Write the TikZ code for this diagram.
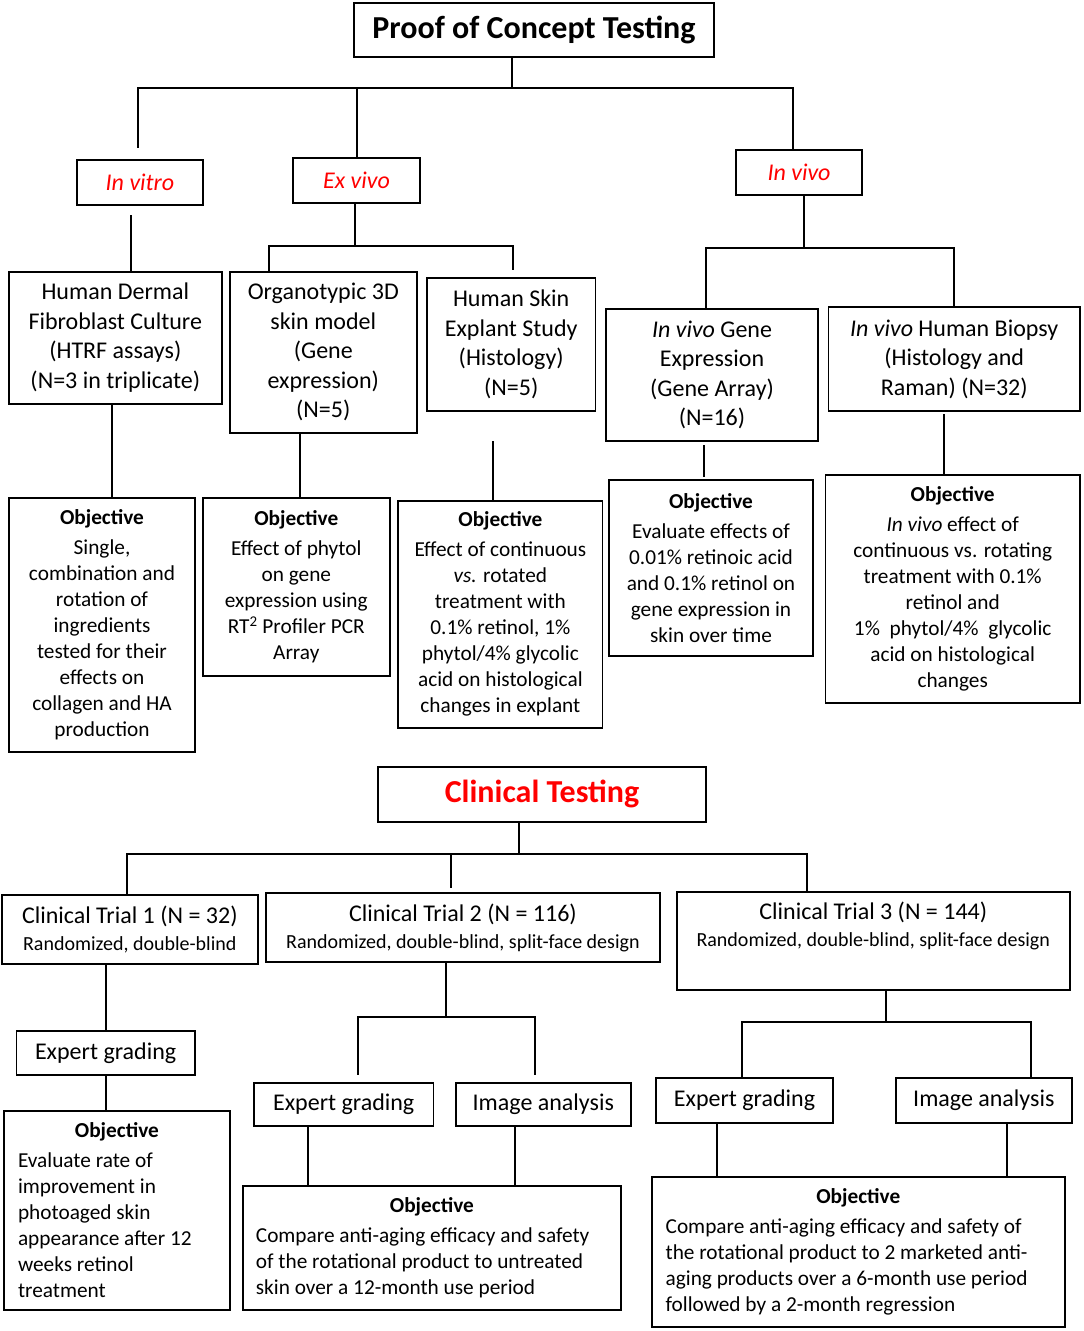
\documentclass[tikz,border=0pt]{standalone}
\usepackage{fontspec}
\setmainfont{Carlito}
\usetikzlibrary{calc}
\definecolor{rd}{RGB}{255,0,0}
\newcommand\FBig{\fontsize{24}{29.5}\selectfont}
\newcommand\FSm{\fontsize{21.3}{26}\selectfont}
\newcommand\FSub{\fontsize{20}{27}\selectfont}
\newcommand\FTitle{\fontsize{32}{38}\selectfont}
\begin{document}
\begin{tikzpicture}[x=1pt,y=-1pt,
 box/.style={draw, line width=1.8pt, inner sep=0pt, align=center},
 big/.style={font=\FBig}, sm/.style={font=\FSm},
 lbox/.style={draw, line width=1.8pt, inner ysep=0pt, inner xsep=14pt, align=flush left, font=\FSm},
 conn/.style={line width=1.8pt, line cap=rect}]
\fill[white] (0,0) rectangle (1084,1331);
\useasboundingbox (0,0) rectangle (1084,1331);

% ---------- Proof of concept ----------
\node[box, font=\FTitle\bfseries, minimum width=360, minimum height=54] (title) at (534,30) {Proof of Concept Testing};
\node[box, big, text=rd, minimum width=126, minimum height=45] (invitro) at (140,182.5) {\itshape In vitro};
\node[box, big, text=rd, minimum width=127, minimum height=45] (exvivo) at (356.5,180.5) {\itshape Ex vivo};
\node[box, big, text=rd, minimum width=126, minimum height=45] (invivo) at (799,172.5) {\itshape In vivo};

\node[box, big, minimum width=212.7, minimum height=132.3] (hdf) at (115.3,337.8) {Human Dermal\\Fibroblast Culture\\(HTRF assays)\\(N=3 in triplicate)};
\node[box, big, minimum width=186.7, minimum height=161] (organo) at (323.3,352.2) {Organotypic 3D\\skin model\\(Gene\\expression)\\(N=5)};
\node[box, big, minimum width=168.5, minimum height=133] (skin) at (511.2,344.5) {Human Skin\\Explant Study\\(Histology)\\(N=5)};
\node[box, big, minimum width=212, minimum height=132] (gene) at (712,375) {\textit{In vivo} Gene\\Expression\\(Gene Array)\\(N=16)};
\node[box, big, minimum width=251.5, minimum height=104] (biopsy) at (954.2,359) {\textit{In vivo} Human Biopsy\\(Histology and\\Raman) (N=32)};

\node[box, sm, minimum width=186, minimum height=254] (objhdf) at (102,625) {\textbf{Objective}\\[4pt]Single,\\combination and\\rotation of\\ingredients\\tested for their\\effects on\\collagen and HA\\production};
\node[box, sm, minimum width=187.3, minimum height=178] (objorg) at (296.3,587) {\textbf{Objective}\\[4pt]Effect of phytol\\on gene\\expression using\\RT\textsuperscript{2} Profiler PCR\\Array};
\node[box, sm, minimum width=204.2, minimum height=227.3] (objskin) at (500.4,614.3) {\textbf{Objective}\\[4pt]Effect of continuous\\\textit{vs.} rotated\\treatment with\\0.1\% retinol, 1\%\\phytol/4\% glycolic\\acid on histological\\changes in explant};
\node[box, sm, minimum width=203.3, minimum height=176] (objgene) at (711,568) {\textbf{Objective}\\[4pt]Evaluate effects of\\0.01\% retinoic acid\\and 0.1\% retinol on\\gene expression in\\skin over time};
\node[box, sm, minimum width=254.6, minimum height=228] (objbio) at (952.7,589) {\textbf{Objective}\\[4pt]\textit{In vivo} effect of\\continuous vs. rotating\\treatment with 0.1\%\\retinol and\\1\%~ phytol/4\%~ glycolic\\acid on histological\\changes};

% connectors top
\coordinate (j0) at (512,88);
\coordinate (bL) at (138,88);
\coordinate (bM) at (357,88);
\coordinate (bR) at (793,88);
\draw[conn] (j0 |- title.south) -- (j0);
\draw[conn] (bL) -- (bR);
\draw[conn, shorten >=12] (bL) -- (bL |- invitro.north);
\draw[conn] (bM) -- (bM |- exvivo.north);
\draw[conn] (bR) -- (bR |- invivo.north);

\coordinate (c1) at (131,0);
\draw[conn, shorten <=10] (c1 |- invitro.south) -- (c1 |- hdf.north);

\coordinate (e1) at (355,246);
\coordinate (eL) at (269,246);
\coordinate (eR) at (513,246);
\draw[conn] (e1 |- exvivo.south) -- (e1);
\draw[conn] (eL) -- (eR);
\draw[conn] (eL) -- (eL |- organo.north);
\draw[conn, shorten >=8] (eR) -- (eR |- skin.north);

\coordinate (v1) at (804,248);
\coordinate (vL) at (706,248);
\coordinate (vR) at (954,248);
\draw[conn] (v1 |- invivo.south) -- (v1);
\draw[conn] (vL) -- (vR);
\draw[conn] (vL) -- (vL |- gene.north);
\draw[conn] (vR) -- (vR |- biopsy.north);

\coordinate (k1) at (112,0);
\coordinate (k2) at (300,0);
\coordinate (k3) at (493,0);
\coordinate (k4) at (704,0);
\coordinate (k5) at (944,0);
\draw[conn] (k1 |- hdf.south) -- (k1 |- objhdf.north);
\draw[conn] (k2 |- organo.south) -- (k2 |- objorg.north);
\draw[conn, shorten <=30] (k3 |- skin.south) -- (k3 |- objskin.north);
\draw[conn, shorten <=4, shorten >=3] (k4 |- gene.south) -- (k4 |- objgene.north);
\draw[conn, shorten <=3] (k5 |- biopsy.south) -- (k5 |- objbio.north);

% ---------- Clinical ----------
\node[box, font=\FTitle\bfseries, text=rd, minimum width=328, minimum height=54.7] (clin) at (542,794.3) {Clinical Testing};
\node[box, font=\FSub, minimum width=255.6, minimum height=69] (t1) at (129.8,929.5) {{\FBig Clinical Trial 1 (N = 32)}\\Randomized, double-blind};
\node[box, font=\FSub, minimum width=394.2, minimum height=69] (t2) at (462.9,927.5) {{\FBig Clinical Trial 2 (N = 116)}\\Randomized, double-blind, split-face design};
\node[box, minimum width=393.3, minimum height=98.3] (t3) at (873.3,940.8) {};
\node[align=center, inner sep=0pt, font=\FSub] (t3t) at (873.3,926) {{\FBig Clinical Trial 3 (N = 144)}\\Randomized, double-blind, split-face design};

\node[box, big, minimum width=178.2, minimum height=44.3] (eg1) at (105.6,1052.8) {Expert grading};
\node[box, big, minimum width=179.5, minimum height=43] (eg2) at (343.7,1104.2) {Expert grading};
\node[box, big, minimum width=174.6, minimum height=43] (ia2) at (543.3,1104.2) {Image analysis};
\node[box, big, minimum width=177, minimum height=44.7] (eg3) at (744.5,1100.3) {Expert grading};
\node[box, big, minimum width=175.7, minimum height=44.7] (ia3) at (983.8,1100.3) {Image analysis};

\node[lbox, text width=197.8, minimum height=199.3] (o1) at (116.9,1210.3) {\makebox[\hsize][c]{\bfseries Objective}\\[4pt]Evaluate rate of\\improvement in\\photoaged skin\\appearance after 12\\weeks retinol\\treatment};
\node[lbox, text width=352, minimum height=124, inner xsep=13pt] (o2) at (431.9,1248) {\makebox[\hsize][c]{\bfseries Objective}\\[4pt]Compare anti-aging efficacy and safety\\of the rotational product to untreated\\skin over a 12-month use period};
\node[lbox, text width=385.3, minimum height=149.7] (o3) at (858.3,1251.8) {\makebox[\hsize][c]{\bfseries Objective}\\[4pt]Compare anti-aging efficacy and safety of\\the rotational product to 2 marketed anti-\\aging products over a 6-month use period\\followed by a 2-month regression};

% connectors bottom
\coordinate (j1) at (519,854);
\coordinate (cL) at (127,854);
\coordinate (cM) at (451,854);
\coordinate (cR) at (807,854);
\draw[conn] (j1 |- clin.south) -- (j1);
\draw[conn] (cL) -- (cR);
\draw[conn] (cL) -- (cL |- t1.north);
\draw[conn, shorten >=5] (cM) -- (cM |- t2.north);
\draw[conn] (cR) -- (cR |- t3.north);

\coordinate (m1) at (106,0);
\draw[conn] (m1 |- t1.south) -- (m1 |- eg1.north);
\draw[conn] (m1 |- eg1.south) -- (m1 |- o1.north);

\coordinate (j2) at (446,1017);
\coordinate (dL) at (358,1017);
\coordinate (dR) at (535,1017);
\draw[conn] (j2 |- t2.south) -- (j2);
\draw[conn] (dL) -- (dR);
\draw[conn, shorten >=8] (dL) -- (dL |- eg2.north);
\draw[conn, shorten >=8] (dR) -- (dR |- ia2.north);

\coordinate (j3) at (886,1022);
\coordinate (fL) at (742,1022);
\coordinate (fR) at (1031,1022);
\draw[conn] (j3 |- t3.south) -- (j3);
\draw[conn] (fL) -- (fR);
\draw[conn] (fL) -- (fL |- eg3.north);
\draw[conn] (fR) -- (fR |- ia3.north);

\coordinate (m2) at (308,0);
\coordinate (m3) at (515,0);
\coordinate (m4) at (717,0);
\coordinate (m5) at (1007,0);
\draw[conn] (m2 |- eg2.south) -- (m2 |- o2.north);
\draw[conn] (m3 |- ia2.south) -- (m3 |- o2.north);
\draw[conn] (m4 |- eg3.south) -- (m4 |- o3.north);
\draw[conn] (m5 |- ia3.south) -- (m5 |- o3.north);
\end{tikzpicture}
\end{document}
